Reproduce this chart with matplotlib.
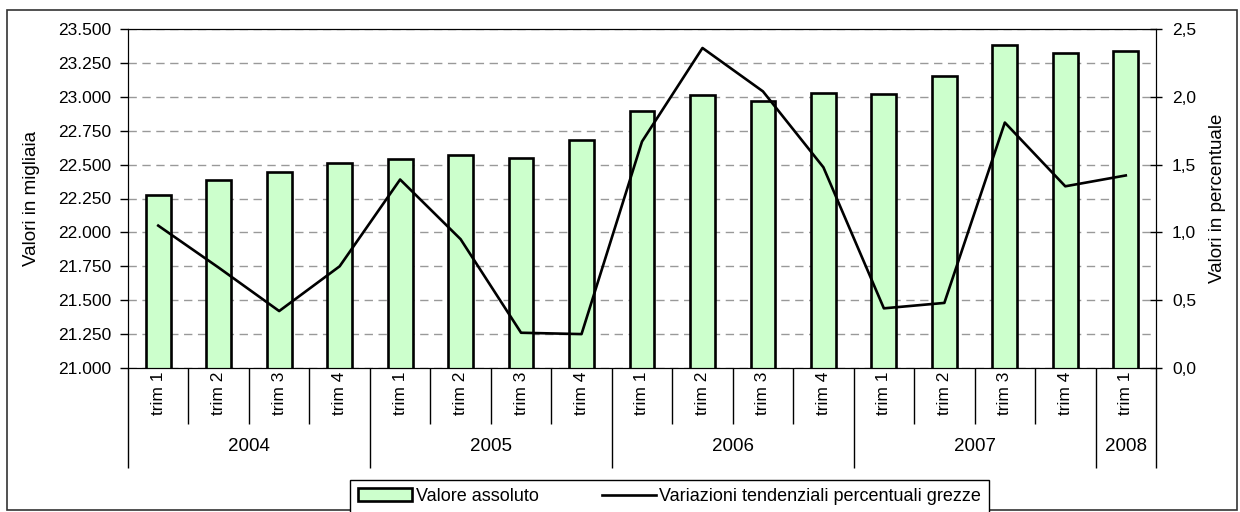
import numpy as np
import matplotlib.pyplot as plt
from matplotlib.patches import Rectangle
from matplotlib.ticker import FuncFormatter, FixedLocator
import matplotlib.transforms as mtransforms

plt.rcParams['font.family'] = ['Liberation Sans', 'DejaVu Sans']
plt.rcParams['font.size'] = 12.5

# data
years = ['2004', '2005', '2006', '2007', '2008']
quarters_per_year = [4, 4, 4, 4, 1]
quarters = ['trim 1', 'trim 2', 'trim 3', 'trim 4'] * 4 + ['trim 1']
valore = [22274, 22386, 22443, 22514, 22541, 22568, 22549, 22679, 22898,
          23016, 22967, 23031, 23023, 23153, 23380, 23321, 23338]
variazioni = [1.05, 0.74, 0.42, 0.75, 1.39, 0.95, 0.26, 0.25, 1.67,
              2.36, 2.04, 1.48, 0.44, 0.48, 1.81, 1.34, 1.42]

x = np.arange(len(valore))

fig = plt.figure(figsize=(12.4, 5.12), dpi=100)
ax = fig.add_axes([128/1240, 1-368/512, (1156-128)/1240, (368-29)/512])
ax2 = ax.twinx()

# outer frame around the whole chart
fig.patches.append(Rectangle((7/1240, 2/512), 1230/1240, 500/512, transform=fig.transFigure,
                             fill=False, edgecolor='#333333', linewidth=1.2))

ax.set_axisbelow(True)
ax.yaxis.grid(True, color='#999999', linestyle=(0, (6, 4)), linewidth=1)
bars = ax.bar(x, valore, width=0.41, color='#ccffcc', edgecolor='black', linewidth=1.9,
              label='Valore assoluto', zorder=2)
line, = ax2.plot(x, variazioni, color='black', linewidth=1.9,
                 label='Variazioni tendenziali percentuali grezze')

ax.set_xlim(-0.5, len(valore) - 0.5)
ax.set_ylim(21000, 23500)
ax.set_yticks(np.arange(21000, 23501, 250))
ax.yaxis.set_major_formatter(FuncFormatter(lambda v, p: f"{v:,.0f}".replace(',', '.')))
ax2.set_ylim(0, 2.5)
ax2.set_yticks(np.arange(0, 2.51, 0.5))
ax2.yaxis.set_major_formatter(FuncFormatter(lambda v, p: f"{v:.1f}".replace('.', ',')))

ax.tick_params(axis='y', direction='out', length=6, width=1, pad=6)
ax2.tick_params(axis='y', direction='inout', length=9, width=1, pad=7)

for sp in ax.spines.values():
    sp.set_color('black')
for sp in ax2.spines.values():
    sp.set_color('black')

# category separators: long ones between years, short ones between quarters
bounds = np.cumsum([0] + quarters_per_year) - 0.5
ax.xaxis.set_major_locator(FixedLocator(bounds))
ax.xaxis.set_minor_locator(FixedLocator(x[:-1] + 0.5))
ax.tick_params(axis='x', which='major', length=72, width=1, labelbottom=False)
ax.tick_params(axis='x', which='minor', length=40, width=1)

trans = mtransforms.blended_transform_factory(ax.transData, ax.transAxes)
for i, q in enumerate(quarters):
    ax.text(i, -0.075, q, rotation=90, ha='center', va='center', transform=trans)
for k, yr in enumerate(years):
    ax.text((bounds[k] + bounds[k+1]) / 2, -0.232, yr, ha='center', va='center',
            transform=trans, fontsize=13.5)

ax.set_ylabel('Valori in migliaia', fontsize=13.5)
ax.yaxis.set_label_coords(-0.086, 0.5)
ax2.set_ylabel('Valori in percentuale', fontsize=13.5)
ax2.yaxis.set_label_coords(1.052, 0.5)

fig.legend([bars, line], [bars.get_label(), line.get_label()], ncol=2, fontsize=13,
           loc='upper center', bbox_to_anchor=(0.54, 1-480/512), frameon=True,
           fancybox=False, edgecolor='black', framealpha=1, borderpad=0.45,
           borderaxespad=0, handlelength=3, handletextpad=0.2, columnspacing=3.5)

fig.savefig('out.png', dpi=100)
